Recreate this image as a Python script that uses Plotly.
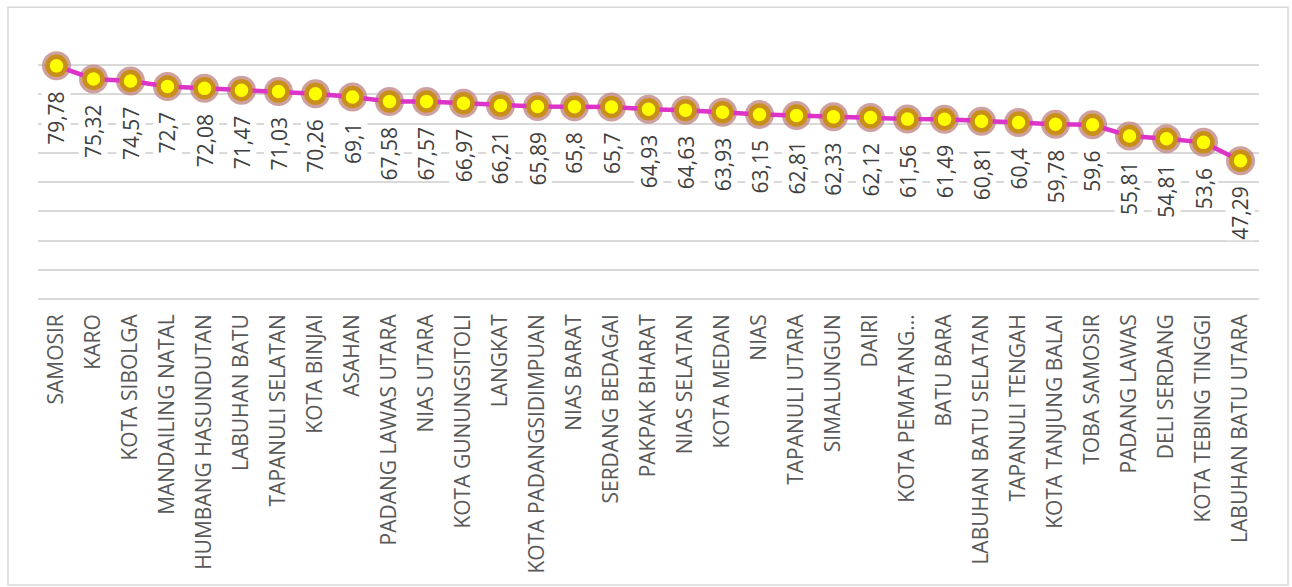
import plotly.graph_objects as go

# Regencies / cities of North Sumatra, sorted by score
regions = [
    "SAMOSIR", "KARO", "KOTA SIBOLGA", "MANDAILING NATAL", "HUMBANG HASUNDUTAN",
    "LABUHAN BATU", "TAPANULI SELATAN", "KOTA BINJAI", "ASAHAN", "PADANG LAWAS UTARA",
    "NIAS UTARA", "KOTA GUNUNGSITOLI", "LANGKAT", "KOTA PADANGSIDIMPUAN", "NIAS BARAT",
    "SERDANG BEDAGAI", "PAKPAK BHARAT", "NIAS SELATAN", "KOTA MEDAN", "NIAS",
    "TAPANULI UTARA", "SIMALUNGUN", "DAIRI", "KOTA PEMATANG...", "BATU BARA",
    "LABUHAN BATU SELATAN", "TAPANULI TENGAH", "KOTA TANJUNG BALAI", "TOBA SAMOSIR",
    "PADANG LAWAS", "DELI SERDANG", "KOTA TEBING TINGGI", "LABUHAN BATU UTARA",
]
scores = [
    79.78, 75.32, 74.57, 72.7, 72.08,
    71.47, 71.03, 70.26, 69.1, 67.58,
    67.57, 66.97, 66.21, 65.89, 65.8,
    65.7, 64.93, 64.63, 63.93, 63.15,
    62.81, 62.33, 62.12, 61.56, 61.49,
    60.81, 60.4, 59.78, 59.6,
    55.81, 54.81, 53.6, 47.29,
]
y_ticks = list(range(0, 100, 10))

FONT = "Open Sans"


def fmt(v):
    # decimal comma, as in the source locale
    return f"{v:g}".replace(".", ",")


fig = go.Figure()

# soft halo behind each marker
fig.add_trace(go.Scatter(
    x=regions, y=scores, mode="markers",
    marker=dict(size=29, color="rgba(190,128,128,0.75)", line=dict(width=0)),
    hoverinfo="skip", showlegend=False,
))
# connecting line
fig.add_trace(go.Scatter(
    x=regions, y=scores, mode="lines",
    line=dict(color="#DD33C8", width=4.5),
    hoverinfo="skip", showlegend=False,
))
# yellow markers with golden ring
fig.add_trace(go.Scatter(
    x=regions, y=scores, mode="markers",
    marker=dict(size=18, color="#FFFF00", line=dict(color="#C8901A", width=4.5)),
    showlegend=False,
))

# rotated value labels below each point
for r, v in zip(regions, scores):
    fig.add_annotation(
        x=r, y=v, text=fmt(v), showarrow=False, textangle=-90,
        xanchor="center", yanchor="top", yshift=-25,
        font=dict(family=FONT, size=21, color="#404040"),
        bgcolor="white", borderpad=0,
    )

# outer chart border
fig.add_shape(
    type="rect", xref="paper", yref="paper",
    x0=-0.0246, x1=1.0238, y0=-1.087, y1=1.109,
    line=dict(color="#D9D9D9", width=1.5), fillcolor="rgba(0,0,0,0)", layer="below",
)

fig.update_layout(
    width=1292, height=587,
    margin=dict(l=38, r=33, t=36, b=288),
    paper_bgcolor="white", plot_bgcolor="white",
    font=dict(family=FONT),
    showlegend=False,
)
fig.update_xaxes(
    type="category", range=[-0.5, len(regions) - 0.5],
    tickangle=-90, ticks="", ticklabelstandoff=10,
    tickfont=dict(family=FONT, size=21, color="#595959"),
    showgrid=False, showline=False, zeroline=False,
)
fig.update_yaxes(
    range=[0, 90], tickvals=y_ticks, showticklabels=False,
    showgrid=True, gridcolor="#D9D9D9", gridwidth=1.5,
    zeroline=True, zerolinecolor="#D9D9D9", zerolinewidth=1.5,
    showline=False,
)

fig.write_html("out.html")
